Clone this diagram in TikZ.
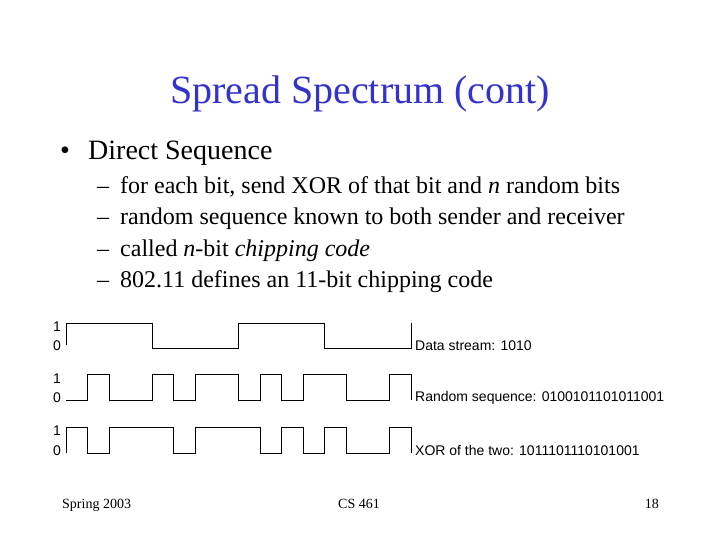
\documentclass[tikz,border=0pt]{standalone}
\usepackage{fontspec}
\setmainfont{Liberation Serif}
\newfontfamily\labelfont{Liberation Sans}
\definecolor{titleblue}{HTML}{3333CC}
\begin{document}
\begin{tikzpicture}[x=1pt,y=-1pt,
  titletext/.style={inner sep=0pt,anchor=base,text=titleblue,font=\fontsize{40}{44}\selectfont},
  bullettext/.style={inner sep=0pt,anchor=base west,font=\fontsize{28}{32}\selectfont},
  subtext/.style={inner sep=0pt,anchor=base west,font=\fontsize{24}{28}\selectfont},
  foottext/.style={inner sep=0pt,anchor=base,font=\fontsize{14}{16}\selectfont},
  levellabel/.style={inner sep=0pt,anchor=center,font=\labelfont\fontsize{14}{16}\selectfont},
  wavelabel/.style={inner sep=0pt,anchor=west,font=\labelfont\fontsize{14}{16}\selectfont},
  wave/.style={line width=1pt,black,line join=miter}]
\useasboundingbox[fill=white] (0,0) rectangle (720,540);

% title
\node[titletext] (title) at (360,104) {Spread Spectrum (cont)};

% bullets
\node[bullettext] (b1mark) at (60,160) {\textbullet};
\node[bullettext] (b1) at (88,160) {Direct Sequence};
\node[subtext] (d1) at (97,194) {--};
\node[subtext] (s1) at (120,194) {for each bit, send XOR of that bit and \textit{n} random bits};
\node[subtext] (d2) at (97,225) {--};
\node[subtext] (s2) at (120,225) {random sequence known to both sender and receiver};
\node[subtext] (d3) at (97,256) {--};
\node[subtext] (s3) at (120,256) {called \textit{n}-bit \textit{chipping code}};
\node[subtext] (d4) at (97,287) {--};
\node[subtext] (s4) at (120,287) {802.11 defines an 11-bit chipping code};

% level labels
\node[levellabel] (d1lab) at (57,327) {1};
\node[levellabel] (d0lab) at (57,346) {0};
\node[levellabel] (r1lab) at (57,379) {1};
\node[levellabel] (r0lab) at (57,398) {0};
\node[levellabel] (x1lab) at (57,431) {1};
\node[levellabel] (x0lab) at (57,451) {0};

% waveforms: x in chip units from x=66
\begin{scope}[xshift=66pt,x=21.5625pt]
  % data 1010
  \draw[wave] (0,345) -- (0,323) -- (4,323) -- (4,348) -- (8,348) -- (8,323)
    -- (12,323) -- (12,348) -- (16,348) -- (16,323);
  % random 0100101101011001
  \draw[wave] (0,400) -- (1,400) -- (1,374) -- (2,374) -- (2,400) -- (4,400) -- (4,374)
    -- (5,374) -- (5,400) -- (6,400) -- (6,374) -- (8,374) -- (8,400) -- (9,400)
    -- (9,374) -- (10,374) -- (10,400) -- (11,400) -- (11,374) -- (13,374) -- (13,400)
    -- (15,400) -- (15,374) -- (16,374) -- (16,400);
  % xor 1011101110101001
  \draw[wave] (0,453) -- (0,427) -- (1,427) -- (1,453) -- (2,453) -- (2,427) -- (5,427)
    -- (5,453) -- (6,453) -- (6,427) -- (9,427) -- (9,453) -- (10,453) -- (10,427)
    -- (11,427) -- (11,453) -- (12,453) -- (12,427) -- (13,427) -- (13,453) -- (15,453)
    -- (15,427) -- (16,427) -- (16,453);
\end{scope}

% wave labels
\node[wavelabel] (dlab) at (415,346) {Data stream: 1010};
\node[wavelabel] (rlab) at (415,398) {Random sequence: 0100101101011001};
\node[wavelabel] (xlab) at (415,450) {XOR of the two: 1011101110101001};

% footer
\node[foottext,anchor=base west] (f1) at (62,508) {Spring 2003};
\node[foottext] (f2) at (359,508) {CS 461};
\node[foottext,anchor=base east] (f3) at (659,508) {18};
\end{tikzpicture}
\end{document}
